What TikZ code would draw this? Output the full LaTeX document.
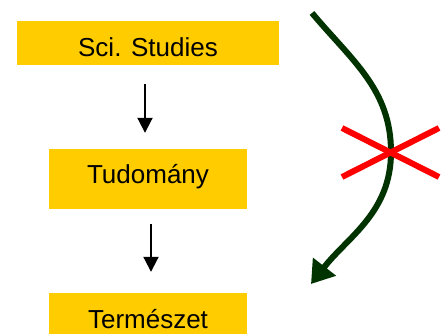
\documentclass[tikz,border=0pt]{standalone}
\usepackage{fontspec}
\setmainfont{Liberation Sans}
\usetikzlibrary{arrows.meta}
\definecolor{boxyellow}{HTML}{FFCC00}
\definecolor{darkgreen}{HTML}{003300}
\tikzset{
  ybox/.style={fill=boxyellow, inner sep=0pt, font=\fontsize{26}{30}\selectfont, text height=35pt},
  blackarrow/.style={line width=2pt, -{Triangle[length=15pt,width=15pt]}},
  greenarrow/.style={darkgreen, line width=6pt, -{Triangle[length=22pt,width=28pt]}},
  redx/.style={red, line width=6pt}
}
\begin{document}
\begin{tikzpicture}[x=1pt,y=-1pt]
\useasboundingbox (0,0) rectangle (448,333);
\node[ybox, minimum width=262pt, text depth=9pt, anchor=base] (b1) at (148,56) {Sci. Studies};
\node[ybox, minimum width=198pt, text height=34pt, text depth=26pt, anchor=base] (b2) at (148,183) {Tudomány};
\node[ybox, minimum width=198pt, text depth=12pt, anchor=base] (b3) at (148,328) {Természet};
\draw[blackarrow] ([xshift=-3pt,yshift=-19pt]b1.south) -- ([xshift=-3pt,yshift=16pt]b2.north);
\draw[blackarrow] ([xshift=3pt,yshift=-15pt]b2.south) -- ([xshift=3pt,yshift=21pt]b3.north);
\coordinate (gs) at (312,13);
\coordinate (gm) at (391,152);
\coordinate (ge) at (311,284);
\draw[greenarrow] (gs) to[out=-50,in=90] (gm) to[out=-90,in=52] (ge);
\coordinate (x1) at (342,128);
\coordinate (x2) at (439,177);
\coordinate (x3) at (342,177);
\coordinate (x4) at (439,128);
\draw[redx] (x1) -- (x2);
\draw[redx] (x3) -- (x4);
\end{tikzpicture}
\end{document}
